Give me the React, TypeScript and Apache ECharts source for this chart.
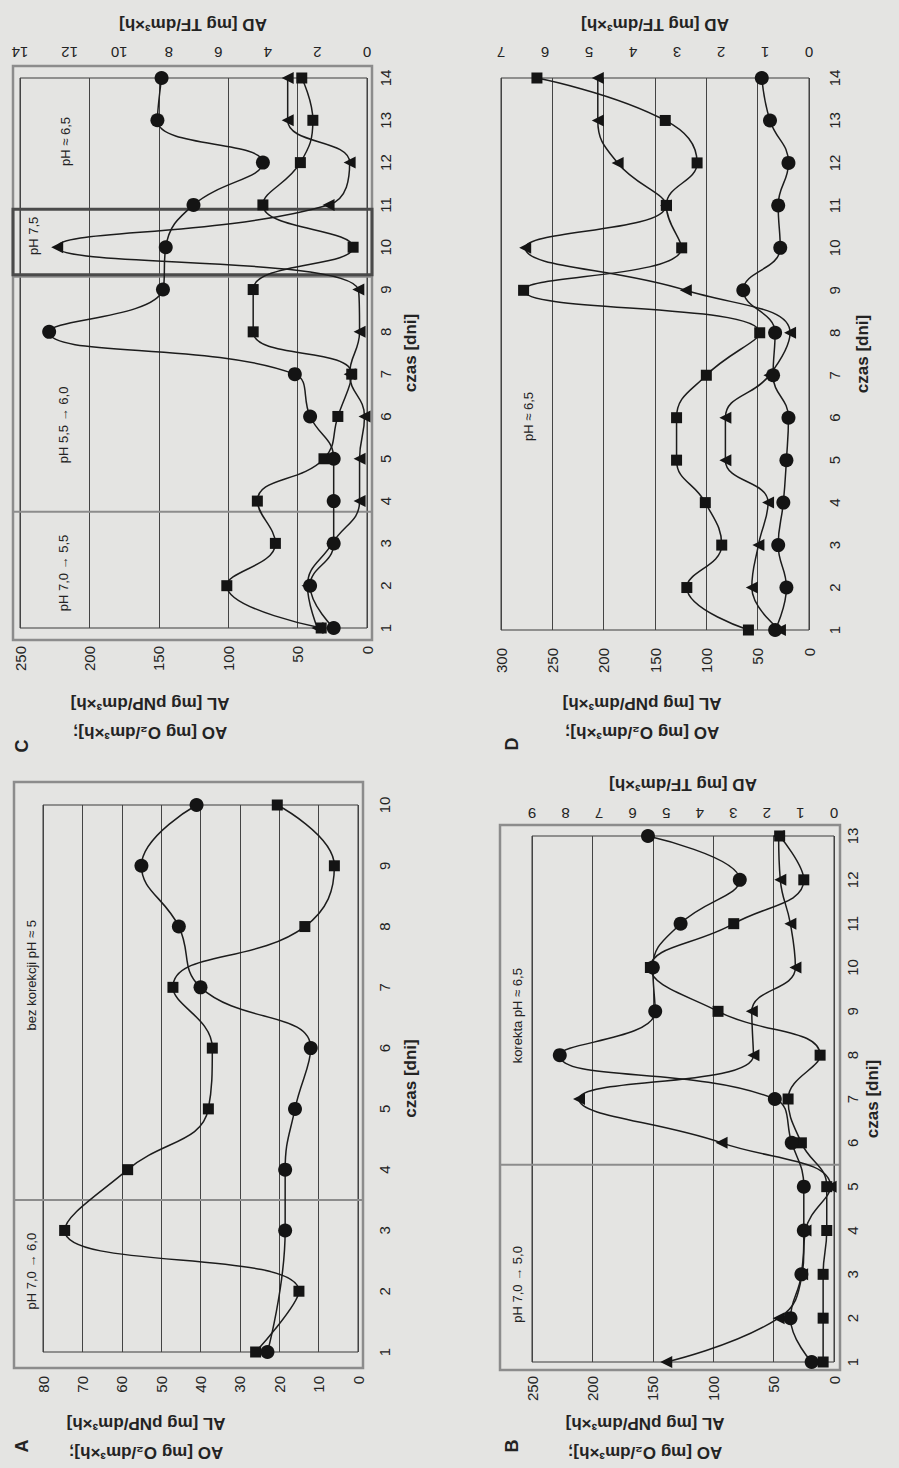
import { useEffect, useRef } from 'react';
import * as echarts from 'echarts';

// ---------- data ----------
const daysA = [1, 2, 3, 4, 5, 6, 7, 8, 9, 10];
const aoA = [23, null, 18.5, 18.5, 16, 12, 40, 45.5, 55, 41];
const alA = [26, 15, 74.5, 58.5, 38, 37, 47, 13.5, 6, 20.5];

const daysB = [1, 2, 3, 4, 5, 6, 7, 8, 9, 10, 11, 12, 13];
const aoB = [18.5, 36, 27, 25, 25, 35, 49, 227, 148, 150, 127, 78, 154];
const alB = [9, 9, 9, 6, 6, 27, 38, 11.5, 96, 152, 83, 25, 45];
const adB = [5.0, 1.65, 0.95, 0.85, 0.1, 3.35, 7.6, 2.4, 2.45, 1.15, 1.3, 1.6, 1.65];

const daysC = [1, 2, 3, 4, 5, 6, 7, 8, 9, 10, 11, 12, 13, 14];
const aoC = [24, 41, 24, 24, 24, 41, 52, 229, 147, 145, 125, 75, 151, 148];
const alC = [33, 101, 66, 79, 31, 21, 11, 82, 82, 10, 75, 48, 39, 47];
const adC = [2.0, 2.4, 1.4, 0.3, 0.3, 0.1, 0.7, 0.3, 0.35, 12.5, 1.55, 0.7, 3.2, 3.2];

const daysD = [1, 2, 3, 4, 5, 6, 7, 8, 9, 10, 11, 12, 13, 14];
const aoD = [33, 22, 30, 25, 22, 20, 35, 33, 64, 28, 30, 20, 38, 46];
const alD = [59, 119, 85, 101, 129, 129, 100, 48, 278, 124, 139, 109, 140, 265];
const adD = [0.66, 1.3, 1.15, 0.93, 1.9, 1.9, 0.9, 0.43, 2.8, 6.45, 3.25, 4.35, 4.8, 4.8];

const titleMain = 'AO [mg O₂/dm³×h];\nAL [mg pNP/dm³×h]';
const titleAD = 'AD [mg TF/dm³×h]';
const titleDays = 'czas [dni]';

// ---------- layout ----------
const GA = { left: 43, top: 805, width: 315, height: 547, maxDay: 10 };
const GB = { left: 532, top: 836, width: 302, height: 526, maxDay: 13 };
const GC = { left: 20, top: 78, width: 347, height: 550, maxDay: 14 };
const GD = { left: 501, top: 78, width: 308, height: 552, maxDay: 14 };

const FONT = '"Liberation Sans", Arial, sans-serif';
const INK = '#232323';

function yOf(g: any, d: number) {
  return g.top + ((g.maxDay - d) / (g.maxDay - 1)) * g.height;
}

function pairs(vals: (number | null)[], days: number[]) {
  const out: number[][] = [];
  days.forEach((d, i) => {
    const v = vals[i];
    if (v !== null && v !== undefined) out.push([v, d]);
  });
  return out;
}

function series(name: string, vals: (number | null)[], days: number[], xi: number, yi: number, kind: string) {
  const sym = kind === 'c' ? 'circle' : kind === 's' ? 'rect' : 'triangle';
  const size = kind === 'c' ? 14 : kind === 's' ? 11 : 12;
  return {
    type: 'line',
    name,
    xAxisIndex: xi,
    yAxisIndex: yi,
    data: pairs(vals, days),
    smooth: 0.45,
    symbol: sym,
    symbolSize: size,
    symbolRotate: kind === 't' ? 90 : 0,
    showAllSymbol: true,
    clip: false,
    lineStyle: { color: '#1c1c1c', width: 1.5 },
    itemStyle: { color: '#141414' },
    emphasis: { disabled: true },
    z: kind === 'c' ? 4 : kind === 's' ? 3 : 2,
  };
}

function grid(g: any, border = true) {
  return {
    left: g.left,
    top: g.top,
    width: g.width,
    height: g.height,
    show: border,
    borderColor: '#3a3a3a',
    borderWidth: 1,
    backgroundColor: 'transparent',
  };
}

const labelBase = { fontFamily: FONT, fontSize: 15, color: INK };

function primaryX(gi: number, max: number, interval: number, margin: number) {
  return {
    type: 'value',
    gridIndex: gi,
    position: 'bottom',
    inverse: true,
    min: 0,
    max,
    interval,
    axisLine: { show: false },
    axisTick: { show: false },
    axisLabel: { ...labelBase, rotate: 90, margin },
    splitLine: { show: true, lineStyle: { color: '#444', width: 1 } },
  };
}

function secondaryX(gi: number, max: number, interval: number, margin: number) {
  return {
    type: 'value',
    gridIndex: gi,
    position: 'top',
    inverse: true,
    min: 0,
    max,
    interval,
    axisLine: { show: false },
    axisTick: { show: false },
    axisLabel: { ...labelBase, rotate: 180, margin },
    splitLine: { show: false },
  };
}

function dayY(gi: number, max: number, margin: number) {
  return {
    type: 'value',
    gridIndex: gi,
    position: 'right',
    min: 1,
    max,
    interval: 1,
    axisLine: { show: false },
    axisTick: { show: false },
    axisLabel: { ...labelBase, rotate: 90, margin },
    splitLine: { show: false },
  };
}

function text(x: number, y: number, t: string, o: any = {}) {
  return {
    type: 'text',
    x,
    y,
    rotation: o.rot !== undefined ? o.rot : Math.PI / 2,
    silent: true,
    z: 10,
    style: {
      text: t,
      align: 'center',
      verticalAlign: 'middle',
      fill: INK,
      fontFamily: FONT,
      fontSize: o.size || 13,
      fontWeight: o.bold ? 'bold' : 'normal',
      lineHeight: o.lh || undefined,
    },
  };
}

function frame(x: number, y: number, w: number, h: number, color = '#8c8c8c', lw = 2.5) {
  return {
    type: 'rect',
    silent: true,
    z: 1,
    shape: { x, y, width: w, height: h },
    style: { fill: 'none', stroke: color, lineWidth: lw },
  };
}

function hline(x1: number, x2: number, y: number, color = '#8c8c8c', lw = 2) {
  return {
    type: 'line',
    silent: true,
    z: 1,
    shape: { x1, y1: y, x2, y2: y },
    style: { stroke: color, lineWidth: lw },
  };
}

export default function App() {
  const ref = useRef<HTMLDivElement>(null);

  useEffect(() => {
    document.body.style.margin = '0';
    if (!ref.current) return;
    const chart = echarts.init(ref.current, null, { renderer: 'svg' });

    const tMain = { rot: Math.PI, bold: true, size: 17, lh: 29 };
    const tAD = { rot: Math.PI, bold: true, size: 17 };
    const tDay = { bold: true, size: 17 };

    const graphics: any[] = [
      // frames
      frame(14, 782, 349, 586),
      frame(500, 825, 340, 545),
      frame(13, 66, 359, 574),
      // separators
      hline(14, 363, yOf(GA, 3.5)),
      hline(500, 840, yOf(GB, 5.5)),
      frame(13, yOf(GC, 9.3), 359, yOf(GC, 3.75) - yOf(GC, 9.3), '#8c8c8c', 2),
      frame(13, yOf(GC, 10.9), 359, yOf(GC, 9.35) - yOf(GC, 10.9), '#4a4a4a', 3),
      // main titles (upside down)
      text(146, 1438, titleMain, tMain),
      text(645, 1438, titleMain, tMain),
      text(150, 718, titleMain, tMain),
      text(642, 718, titleMain, tMain),
      // secondary titles
      text(683, 784, titleAD, tAD),
      text(193, 24, titleAD, tAD),
      text(655, 24, titleAD, tAD),
      // day titles
      text(410, yOf(GA, 5.5), titleDays, tDay),
      text(872, yOf(GB, 7), titleDays, tDay),
      text(410, yOf(GC, 7.5), titleDays, tDay),
      text(862, yOf(GD, 7.5), titleDays, tDay),
      // panel letters
      text(22, 1446, 'A', { bold: true, size: 18 }),
      text(512, 1446, 'B', { bold: true, size: 18 }),
      text(22, 746, 'C', { bold: true, size: 18 }),
      text(512, 744, 'D', { bold: true, size: 18 }),
      // annotations
      text(31, yOf(GA, 2.33), 'pH 7,0 → 6,0'),
      text(31, yOf(GA, 7.2), 'bez korekcji pH ≈ 5'),
      text(517, yOf(GB, 2.77), 'pH 7,0 → 5,0'),
      text(517, yOf(GB, 8.9), 'korekta pH ≈ 6,5'),
      text(63, yOf(GC, 2.3), 'pH 7,0 → 5,5'),
      text(63, yOf(GC, 5.8), 'pH 5,5 → 6,0'),
      text(33, yOf(GC, 10.27), 'pH 7,5'),
      text(65, yOf(GC, 12.5), 'pH ≈ 6,5'),
      text(528, yOf(GD, 6.03), 'pH ≈ 6,5'),
    ];

    chart.setOption({
      animation: false,
      backgroundColor: '#e4e4e2',
      grid: [grid(GA), grid(GB), grid(GC), grid(GD)],
      xAxis: [
        primaryX(0, 80, 10, 24),
        primaryX(1, 250, 50, 14),
        secondaryX(1, 9, 1, 15),
        primaryX(2, 250, 50, 18),
        secondaryX(2, 14, 2, 18),
        primaryX(3, 300, 50, 18),
        secondaryX(3, 7, 1, 18),
      ],
      yAxis: [dayY(0, 10, 19), dayY(1, 13, 11), dayY(2, 14, 11), dayY(3, 14, 18)],
      series: [
        series('AL', alA, daysA, 0, 0, 's'),
        series('AO', aoA, daysA, 0, 0, 'c'),
        series('AD', adB, daysB, 2, 1, 't'),
        series('AL', alB, daysB, 1, 1, 's'),
        series('AO', aoB, daysB, 1, 1, 'c'),
        series('AD', adC, daysC, 4, 2, 't'),
        series('AL', alC, daysC, 3, 2, 's'),
        series('AO', aoC, daysC, 3, 2, 'c'),
        series('AD', adD, daysD, 6, 3, 't'),
        series('AL', alD, daysD, 5, 3, 's'),
        series('AO', aoD, daysD, 5, 3, 'c'),
      ],
      graphic: graphics,
    });

    return () => chart.dispose();
  }, []);

  return <div ref={ref} style={{ width: 899, height: 1468 }} />;
}
